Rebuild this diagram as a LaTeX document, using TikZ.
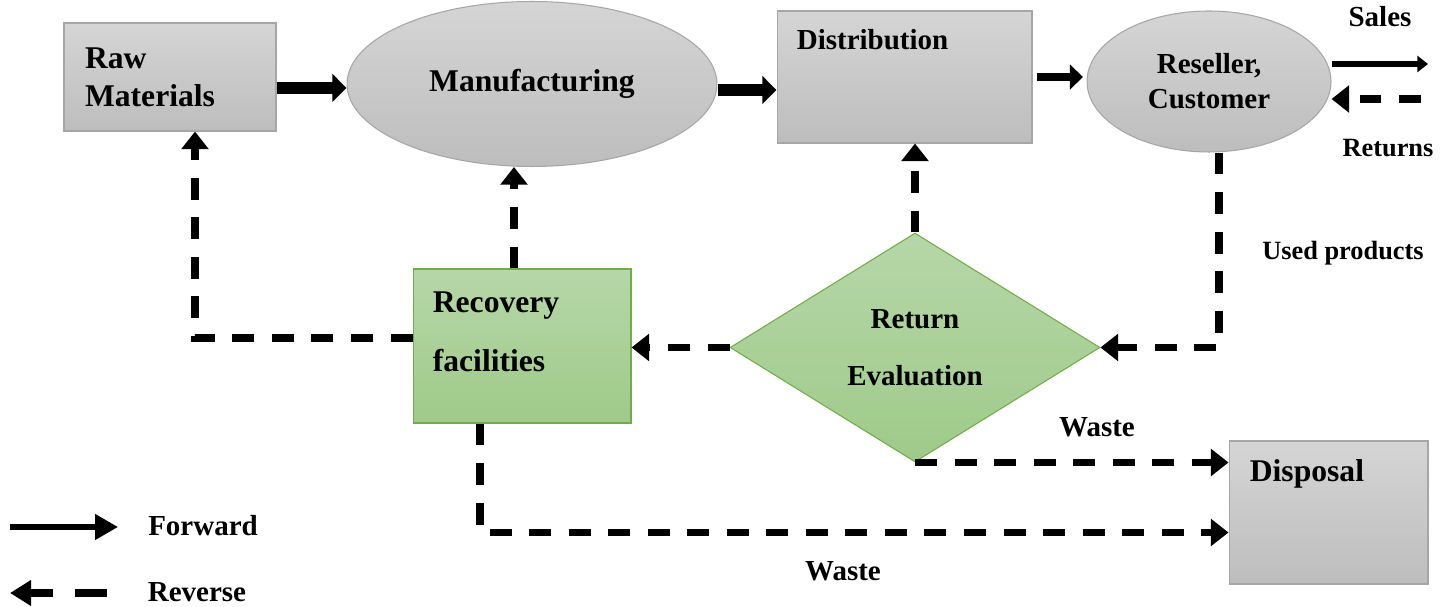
\documentclass[tikz,border=0pt]{standalone}
\usepackage{fontspec}
\setmainfont{Liberation Serif}
\usetikzlibrary{arrows.meta, shapes.geometric, positioning, calc}

\definecolor{grayedge}{HTML}{A6A6A6}
\definecolor{graytop}{HTML}{D5D5D5}
\definecolor{graybot}{HTML}{BDBDBD}
\definecolor{greenedge}{HTML}{70AD47}
\definecolor{greentop}{HTML}{B6D7A8}
\definecolor{greenbot}{HTML}{9FCA8A}

\begin{document}
\begin{tikzpicture}[x=0.02cm, y=-0.02cm]
	% Define styles
	\tikzset{
		block/.style={rectangle, draw=grayedge, line width=0.6pt, top color=graytop, bottom color=graybot, inner sep=0pt},
		greenblock/.style={block, draw=greenedge, top color=greentop, bottom color=greenbot},
		blob/.style={ellipse, draw=grayedge, line width=0.6pt, top color=graytop, bottom color=graybot, inner sep=0pt, align=center},
		check/.style={diamond, draw=greenedge, line width=0.6pt, top color=greentop, bottom color=greenbot, inner sep=0pt, align=center},
		bigtext/.style={font=\bfseries\fontsize{18}{21.6}\selectfont},
		midtext/.style={font=\bfseries\fontsize{16.5}{19.8}\selectfont},
		smalltext/.style={font=\bfseries\fontsize{15}{18}\selectfont},
		line/.style={draw, line width=7pt, -{Triangle[length=8pt, width=15.5pt]}},
		back/.style={draw, line width=4.5pt, dash pattern=on 12.5pt off 10pt, -{Triangle[length=10pt, width=15pt]}}
	}
	\useasboundingbox (0,0) rectangle (1449,607);
	
	% Nodes
	\node[block, bigtext, minimum width=4.24cm, minimum height=2.16cm, text width=3.4cm, align=left] (raw) at (170,77) {Raw\\Materials};
	\node[blob, bigtext, minimum width=7.4cm, minimum height=3.3cm] (manu) at (532,84) {Manufacturing};
	\node[block, minimum width=5.1cm, minimum height=2.64cm, label={[midtext, anchor=north west, inner sep=0pt, xshift=0.4cm, yshift=-0.38cm]north west:Distribution}] (dist) at (904.5,77) {};
	\node[blob, midtext, minimum width=4.88cm, minimum height=2.82cm] (res) at (1209,81.5) {Reseller,\\Customer};
	\node[greenblock, minimum width=4.36cm, minimum height=3.08cm, label={[bigtext, anchor=north west, align=left, inner sep=0pt, xshift=0.4cm, yshift=-0.46cm]north west:{Recovery\\[12pt]facilities}}] (rec) at (522,346) {};
	\node[check, midtext, minimum width=7.4cm, minimum height=4.58cm] (eval) at (915,347.5) {Return\\[13pt]Evaluation};
	\node[block, minimum width=3.98cm, minimum height=2.86cm, label={[bigtext, anchor=north west, inner sep=0pt, xshift=0.42cm, yshift=-0.38cm]north west:Disposal}] (disp) at (1328.5,512.5) {};
	
	\node[midtext] (sales) at (1380,17) {Sales};
	\node[smalltext] (returns) at (1388,148) {Returns};
	\node[smalltext] (used) at (1343,253) {Used products};
	\node[midtext] (waste1) at (1097,427) {Waste};
	\node[midtext] (waste2) at (843,571) {Waste};
	\node[midtext] (fwdlabel) at (203,526) {Forward};
	\node[midtext] (revlabel) at (197,592) {Reverse};
	
	\coordinate (salesend) at (1428,64);
	\coordinate (retstart) at (1421,99);
	\coordinate (fwdstart) at (10,527);
	\coordinate (fwdend) at (118,527);
	\coordinate (revstart) at (107,593);
	\coordinate (revend) at (10,593);
	
	% Arrows
	\draw[line] ([yshift=-0.22cm]raw.east) -- ([yshift=-0.22cm]raw.east -| manu.west);
	\draw[line] ([yshift=-0.12cm]manu.east) -- ([yshift=-0.12cm]manu.east -| dist.west);
	\draw[line, line width=5pt, shorten <=2.8pt, shorten >=2pt, -{Triangle[length=7.5pt, width=14pt]}] (dist.east) -- (dist.east -| res.west);
	\draw[line, line width=3pt, -{Triangle[length=6pt, width=9pt]}] (res.east |- salesend) -- (salesend);
	
	\draw[back] (retstart) -- (retstart -| res.east);
	\draw[back] ([xshift=0.2cm]res.south) |- (eval.east);
	\draw[back] (eval.west) -- (eval.west -| rec.east);
	\draw[back] (eval.north) -- (eval.north |- dist.south);
	\draw[back] (eval.south) -- (eval.south -| disp.west);
	\draw[back] ([xshift=-0.16cm]rec.north) -- ([xshift=-0.16cm]rec.north |- manu.south);
	\draw[back] ([yshift=0.16cm]rec.west) -| ([xshift=0.5cm]raw.south);
	\draw[back] ([xshift=-0.84cm]rec.south) |- ([yshift=-0.4cm]disp.west);
	
	% Legend
	\draw[line, line width=3pt, -{Triangle[length=13pt, width=14pt]}] (fwdstart) -- (fwdend);
	\draw[back, line width=4pt, dash pattern=on 18pt off 13pt, -{Triangle[length=12pt, width=14pt]}] (revstart) -- (revend);
	
\end{tikzpicture}
\end{document}
